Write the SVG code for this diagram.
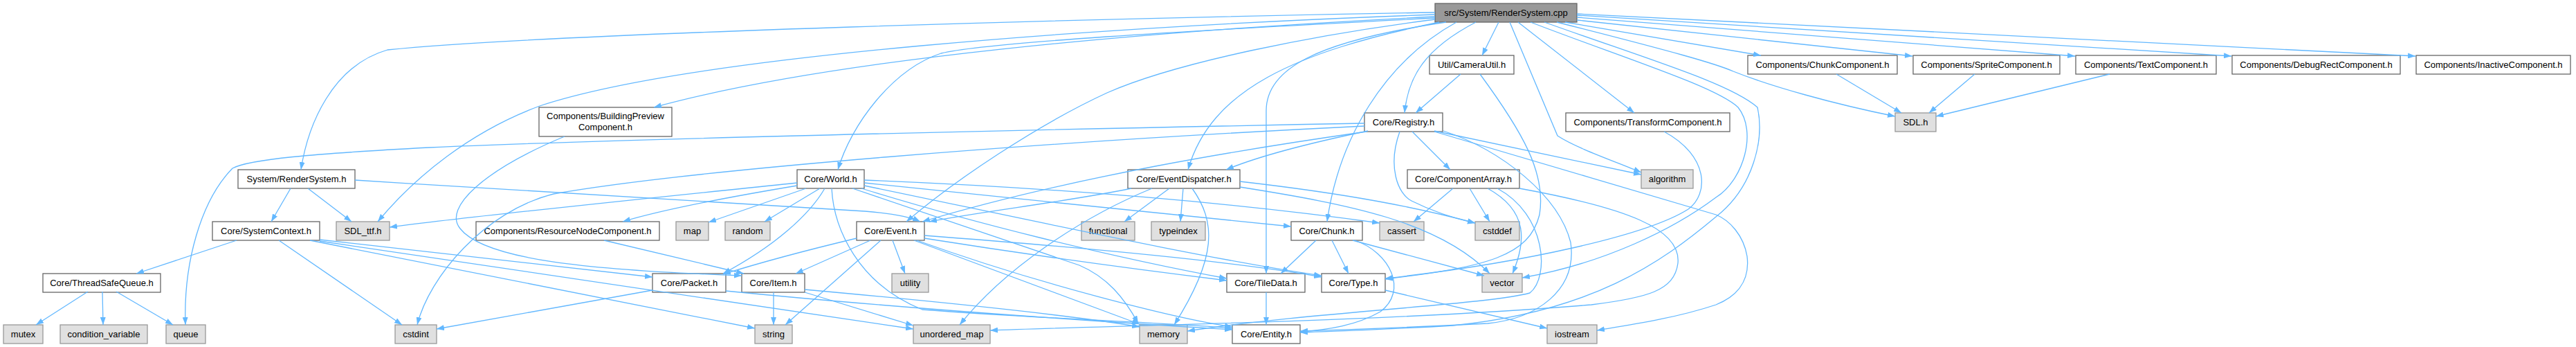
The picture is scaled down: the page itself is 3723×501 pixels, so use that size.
<svg xmlns="http://www.w3.org/2000/svg" width="3723" height="501" viewBox="0 0 3723 501">
<defs>
<style>
rect{stroke-width:1.3}
.n rect{fill:#ffffff;stroke:#666666}
.x rect{fill:#e0e0e0;stroke:#999999}
.r rect{fill:#999999;stroke:#666666}
text{font-family:"Liberation Sans",Arial,Helvetica,sans-serif;font-size:13px;text-anchor:middle;fill:#000}
#edges path{fill:none;stroke:#63b8ff;stroke-width:1.3;marker-end:url(#a)}
</style>
<marker id="a" markerWidth="11" markerHeight="8" refX="11" refY="4" orient="auto" markerUnits="userSpaceOnUse"><path d="M0,0 L11,4 L0,8 z" fill="#63b8ff" stroke="none"/></marker>
</defs>
<rect width="3723" height="501" fill="#fff"/>
<g id="root" class="r"><rect x="2074" y="5" width="205" height="27"/><text x="2176.5" y="23">src/System/RenderSystem.cpp</text></g>
<g id="cameraUtil" class="n"><rect x="2066" y="80" width="122" height="27"/><text x="2127" y="98">Util/CameraUtil.h</text></g>
<g id="chunkComponent" class="n"><rect x="2526" y="80" width="216" height="27"/><text x="2634" y="98">Components/ChunkComponent.h</text></g>
<g id="spriteComponent" class="n"><rect x="2765" y="80" width="212" height="27"/><text x="2871" y="98">Components/SpriteComponent.h</text></g>
<g id="textComponent" class="n"><rect x="3000" y="80" width="203" height="27"/><text x="3101.5" y="98">Components/TextComponent.h</text></g>
<g id="debugRectComponent" class="n"><rect x="3226" y="80" width="243" height="27"/><text x="3347.5" y="98">Components/DebugRectComponent.h</text></g>
<g id="inactiveComponent" class="n"><rect x="3492" y="80" width="223" height="27"/><text x="3603.5" y="98">Components/InactiveComponent.h</text></g>
<g id="buildingPreview" class="n"><rect x="779" y="155" width="192" height="42"/><text x="875" y="172">Components/BuildingPreview</text><text x="875" y="188">Component.h</text></g>
<g id="registry" class="n"><rect x="1972" y="163" width="113" height="27"/><text x="2028.5" y="181">Core/Registry.h</text></g>
<g id="transformComponent" class="n"><rect x="2263" y="163" width="237" height="27"/><text x="2381.5" y="181">Components/TransformComponent.h</text></g>
<g id="sdl" class="x"><rect x="2739" y="163" width="59" height="27"/><text x="2768.5" y="181">SDL.h</text></g>
<g id="renderSystemH" class="n"><rect x="344" y="245" width="169" height="27"/><text x="428.5" y="263">System/RenderSystem.h</text></g>
<g id="world" class="n"><rect x="1152" y="245" width="97" height="27"/><text x="1200.5" y="263">Core/World.h</text></g>
<g id="eventDispatcher" class="n"><rect x="1630" y="245" width="162" height="27"/><text x="1711" y="263">Core/EventDispatcher.h</text></g>
<g id="componentArray" class="n"><rect x="2034" y="245" width="162" height="27"/><text x="2115" y="263">Core/ComponentArray.h</text></g>
<g id="algorithm" class="x"><rect x="2372" y="245" width="75" height="27"/><text x="2409.5" y="263">algorithm</text></g>
<g id="systemContext" class="n"><rect x="307" y="320" width="155" height="27"/><text x="384.5" y="338">Core/SystemContext.h</text></g>
<g id="sdlTtf" class="x"><rect x="486" y="320" width="77" height="27"/><text x="524.5" y="338">SDL_ttf.h</text></g>
<g id="resourceNode" class="n"><rect x="688" y="320" width="265" height="27"/><text x="820.5" y="338">Components/ResourceNodeComponent.h</text></g>
<g id="map" class="x"><rect x="977" y="320" width="47" height="27"/><text x="1000.5" y="338">map</text></g>
<g id="random" class="x"><rect x="1048" y="320" width="65" height="27"/><text x="1080.5" y="338">random</text></g>
<g id="event" class="n"><rect x="1238" y="320" width="98" height="27"/><text x="1287" y="338">Core/Event.h</text></g>
<g id="functional" class="x"><rect x="1563" y="320" width="77" height="27"/><text x="1601.5" y="338">functional</text></g>
<g id="typeindex" class="x"><rect x="1664" y="320" width="78" height="27"/><text x="1703" y="338">typeindex</text></g>
<g id="chunk" class="n"><rect x="1866" y="320" width="103" height="27"/><text x="1917.5" y="338">Core/Chunk.h</text></g>
<g id="cassert" class="x"><rect x="1994" y="320" width="64" height="27"/><text x="2026" y="338">cassert</text></g>
<g id="cstddef" class="x"><rect x="2132" y="320" width="64" height="27"/><text x="2164" y="338">cstddef</text></g>
<g id="threadSafeQueue" class="n"><rect x="62" y="395" width="170" height="27"/><text x="147" y="413">Core/ThreadSafeQueue.h</text></g>
<g id="packet" class="n"><rect x="943" y="395" width="106" height="27"/><text x="996" y="413">Core/Packet.h</text></g>
<g id="item" class="n"><rect x="1072" y="395" width="91" height="27"/><text x="1117.5" y="413">Core/Item.h</text></g>
<g id="utility" class="x"><rect x="1289" y="395" width="53" height="27"/><text x="1315.5" y="413">utility</text></g>
<g id="tileData" class="n"><rect x="1773" y="395" width="113" height="27"/><text x="1829.5" y="413">Core/TileData.h</text></g>
<g id="type" class="n"><rect x="1910" y="395" width="92" height="27"/><text x="1956" y="413">Core/Type.h</text></g>
<g id="vector" class="x"><rect x="2142" y="395" width="58" height="27"/><text x="2171" y="413">vector</text></g>
<g id="mutex" class="x"><rect x="5" y="469" width="57" height="27"/><text x="33.5" y="487">mutex</text></g>
<g id="conditionVariable" class="x"><rect x="87" y="469" width="126" height="27"/><text x="150" y="487">condition_variable</text></g>
<g id="queue" class="x"><rect x="240" y="469" width="57" height="27"/><text x="268.5" y="487">queue</text></g>
<g id="cstdint" class="x"><rect x="571" y="469" width="60" height="27"/><text x="601" y="487">cstdint</text></g>
<g id="string" class="x"><rect x="1091" y="469" width="54" height="27"/><text x="1118" y="487">string</text></g>
<g id="unorderedMap" class="x"><rect x="1320" y="469" width="111" height="27"/><text x="1375.5" y="487">unordered_map</text></g>
<g id="memory" class="x"><rect x="1647" y="469" width="69" height="27"/><text x="1681.5" y="487">memory</text></g>
<g id="entity" class="n"><rect x="1781" y="469" width="98" height="27"/><text x="1830" y="487">Core/Entity.h</text></g>
<g id="iostream" class="x"><rect x="2236" y="469" width="72" height="27"/><text x="2272" y="487">iostream</text></g>
<g id="edges">
<path d="M2074,18 C1600,26 800,48 560,72 C480,95 445,180 435,245"/>
<path d="M2074,21 C1600,38 1000,80 780,153 C680,190 600,255 546,320"/>
<path d="M2074,24 C1650,45 1200,85 945,155"/>
<path d="M2074,26 C1700,45 1420,62 1360,77 C1290,100 1230,180 1211,245"/>
<path d="M2074,28 C1900,50 1700,90 1600,134 C1500,180 1380,260 1310,320"/>
<path d="M2080,32 C1870,75 1750,130 1717,245"/>
<path d="M2090,32 C1900,60 1830,100 1830,160 L1830,395"/>
<path d="M2105,32 C2000,90 1935,200 1918,320"/>
<path d="M2133,32 C2060,70 2035,110 2030,163"/>
<path d="M2166,32 L2142,80"/>
<path d="M2182,32 L2251,196 C2280,215 2340,235 2372,249"/>
<path d="M2194,32 L2362,163"/>
<path d="M2279,20 L3491,81"/>
<path d="M2279,22 L3225,81"/>
<path d="M2279,25 L2999,81"/>
<path d="M2279,29 L2764,81"/>
<path d="M2262,32 L2545,80"/>
<path d="M2250,32 C2420,75 2480,92 2505,103 C2560,125 2650,150 2739,168"/>
<path d="M2212,32 C2350,85 2480,125 2512,155 C2540,190 2520,260 2480,285 C2420,330 2320,380 2200,401"/>
<path d="M2232,32 C2380,85 2500,120 2540,155 C2550,200 2535,270 2480,313 C2400,380 2300,450 2100,470 C2000,476 1930,478 1879,480"/>
<path d="M420,272 L392,320"/>
<path d="M445,272 L508,320"/>
<path d="M513,260 C800,278 1100,296 1250,305 C1290,308 1315,313 1330,320"/>
<path d="M342,347 L197,395"/>
<path d="M403,347 L581,469"/>
<path d="M462,346 L943,400"/>
<path d="M462,348 L1320,475"/>
<path d="M448,347 L1091,474"/>
<path d="M127,421 L52,469"/>
<path d="M148,421 L149,469"/>
<path d="M168,421 L250,469"/>
<path d="M816,197 C700,245 640,300 665,330 C700,375 850,390 1072,398"/>
<path d="M873,347 L1075,395"/>
<path d="M1152,264 C950,285 700,310 563,328"/>
<path d="M1152,268 C1050,285 950,305 900,320"/>
<path d="M1165,272 L1024,321"/>
<path d="M1185,272 L1105,320"/>
<path d="M1192,272 C1170,310 1120,355 1045,395"/>
<path d="M1249,260 C1550,272 1800,295 1994,322"/>
<path d="M1249,264 C1450,285 1700,310 1866,327"/>
<path d="M1245,272 C1400,320 1600,370 1773,402"/>
<path d="M1249,268 C1500,320 1750,375 1910,398"/>
<path d="M1232,272 L1560,383 C1600,400 1625,430 1645,467"/>
<path d="M1202,272 C1205,330 1240,410 1333,447 C1500,460 1700,466 1781,474"/>
<path d="M1238,344 C1150,365 1080,385 1045,396"/>
<path d="M1258,347 L1150,395"/>
<path d="M1273,347 L1135,469"/>
<path d="M1290,347 L1308,395"/>
<path d="M1336,340 C1600,360 1800,380 1910,400"/>
<path d="M1336,344 C1500,370 1650,390 1773,405"/>
<path d="M1321,347 L1647,468"/>
<path d="M1325,347 C1500,410 1700,460 1781,472"/>
<path d="M1635,272 C1550,290 1420,305 1343,320"/>
<path d="M1690,272 L1625,320"/>
<path d="M1710,272 L1706,320"/>
<path d="M1665,272 C1560,315 1450,390 1387,469"/>
<path d="M1723,272 C1757,320 1760,370 1697,469"/>
<path d="M1792,262 C1950,280 2050,300 2132,322"/>
<path d="M1792,270 C1950,295 2080,320 2153,395"/>
<path d="M1902,347 L1851,395"/>
<path d="M1925,347 L1949,395"/>
<path d="M1955,347 L2145,398"/>
<path d="M1958,347 C2010,365 2035,420 1995,450 C1960,470 1920,476 1879,479"/>
<path d="M1830,422 L1830,469"/>
<path d="M2002,419 L2236,474"/>
<path d="M2111,107 L2046,163"/>
<path d="M2139,107 C2200,190 2235,250 2225,310 C2210,370 2150,385 2002,403"/>
<path d="M1972,178 C1600,185 900,200 620,213 C450,222 360,230 336,243 C290,290 265,380 268,469"/>
<path d="M1972,182 C1500,205 1000,245 800,280 C700,305 620,400 603,469"/>
<path d="M1977,189 C1900,205 1820,225 1772,245"/>
<path d="M1975,190 C1800,215 1550,255 1333,320"/>
<path d="M2041,190 L2096,245"/>
<path d="M2023,190 C2005,240 2020,280 2040,290 C2070,305 2100,315 2132,322"/>
<path d="M2073,189 L2372,252"/>
<path d="M2073,190 L2480,310 C2500,318 2520,340 2525,370 C2530,410 2505,430 2480,440 C2420,460 2350,470 2308,477"/>
<path d="M2086,189 C2171,217 2253,283 2270,350 C2280,420 2220,460 2150,467 C2050,472 1950,476 1879,478"/>
<path d="M2100,272 L2043,320"/>
<path d="M2124,272 L2153,320"/>
<path d="M2150,272 C2210,305 2205,350 2186,395"/>
<path d="M2164,272 C2235,310 2240,400 2211,423 C2150,440 1900,450 1716,478"/>
<path d="M2196,272 C2350,300 2430,330 2425,380 C2420,420 2380,430 2300,440 C2000,465 1600,470 1431,477"/>
<path d="M2405,190 C2470,225 2470,280 2440,302 C2380,340 2200,380 2002,402"/>
<path d="M943,419 L631,475"/>
<path d="M1049,420 C1300,445 1600,465 1781,476"/>
<path d="M1118,422 L1118,469"/>
<path d="M1163,422 L1320,470"/>
<path d="M1163,418 C1350,435 1550,455 1647,472"/>
<path d="M2654,107 L2748,163"/>
<path d="M2854,107 L2788,163"/>
<path d="M3049,107 L2798,168"/>
</g>
</svg>
